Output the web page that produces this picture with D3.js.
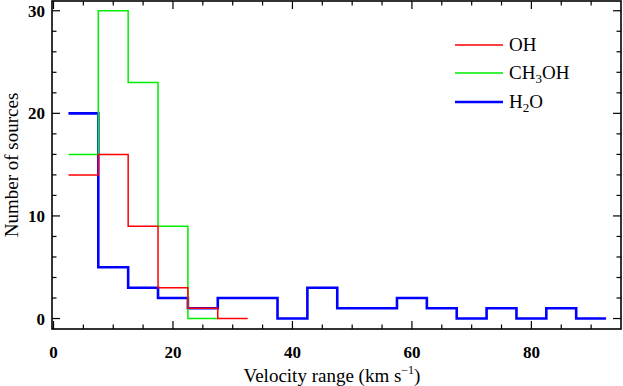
<!DOCTYPE html>
<html>
<head>
<meta charset="utf-8">
<script src="https://cdn.jsdelivr.net/npm/d3@7"></script>
<style>
  body { margin: 0; background: #fff; }
  svg { display: block; font-family: "Liberation Serif", "Times New Roman", serif; }
</style>
</head>
<body>
<svg id="chart" width="623" height="386"></svg>
<script>
// bin left edges (km/s), each bin 5 wide
var binStart = 2.5, binWidth = 5;
var ohCounts    = [14, 16, 9, 3, 1, 0];
var ch3ohCounts = [16, 30, 23, 9, 0];
var h2oCounts   = [20, 5, 3, 2, 1, 2, 2, 0, 3, 1, 1, 2, 1, 0, 1, 0, 1, 0];
var xTicks = [0, 20, 40, 60, 80];
var yTicks = [0, 10, 20, 30];

var series = [
  { name: "H2O",   counts: h2oCounts,   color: "#0000ff", width: 2.6 },
  { name: "CH3OH", counts: ch3ohCounts, color: "#00ee00", width: 1.5 },
  { name: "OH",    counts: ohCounts,    color: "#ff0000", width: 1.5 }
];

var svg = d3.select("#chart");
var pLeft = 52, pRight = 621, pTop = 1, pBottom = 329;

var x = d3.scaleLinear().domain([-0.25, 95]).range([pLeft, pRight]);
var y = d3.scaleLinear().domain([-1.02, 30.95]).range([pBottom, pTop]);

// step lines
function stepPoints(counts) {
  var pts = counts.map(function(c, i) { return [binStart + i * binWidth, c]; });
  pts.push([binStart + counts.length * binWidth, counts[counts.length - 1]]);
  return pts;
}
var line = d3.line()
  .x(function(d) { return x(d[0]); })
  .y(function(d) { return y(d[1]); })
  .curve(d3.curveStepAfter);

series.forEach(function(s) {
  svg.append("path")
    .attr("d", line(stepPoints(s.counts)))
    .attr("fill", "none")
    .attr("stroke", s.color)
    .attr("stroke-width", s.width);
});

// frame + ticks (inward on all sides)
var g = svg.append("g").attr("stroke", "#000").attr("stroke-width", 1.2);
d3.range(0, 95, 5).forEach(function(v) {
  var len = v % 20 === 0 ? 8 : 4.5;
  g.append("line").attr("x1", x(v)).attr("x2", x(v)).attr("y1", pBottom).attr("y2", pBottom - len);
  g.append("line").attr("x1", x(v)).attr("x2", x(v)).attr("y1", pTop).attr("y2", pTop + len);
});
d3.range(0, 31, 2).forEach(function(v) {
  var len = v % 10 === 0 ? 8 : 4.5;
  g.append("line").attr("y1", y(v)).attr("y2", y(v)).attr("x1", pLeft).attr("x2", pLeft + len);
  g.append("line").attr("y1", y(v)).attr("y2", y(v)).attr("x1", pRight).attr("x2", pRight - len);
});
svg.append("rect")
  .attr("x", pLeft).attr("y", pTop)
  .attr("width", pRight - pLeft).attr("height", pBottom - pTop)
  .attr("fill", "none").attr("stroke", "#000").attr("stroke-width", 1.6);

// tick labels
svg.selectAll(".xt").data(xTicks).enter().append("text")
  .attr("x", function(d) { return x(d); })
  .attr("y", 358)
  .attr("text-anchor", "middle")
  .attr("font-size", 17).attr("font-weight", "bold")
  .text(function(d) { return d; });
svg.selectAll(".yt").data(yTicks).enter().append("text")
  .attr("x", 45)
  .attr("y", function(d) { return y(d) + 6; })
  .attr("text-anchor", "end")
  .attr("font-size", 17).attr("font-weight", "bold")
  .text(function(d) { return d; });

// axis titles
var xt = svg.append("text")
  .attr("x", 332).attr("y", 382)
  .attr("text-anchor", "middle")
  .attr("font-size", 19);
xt.append("tspan").text("Velocity range (km s");
xt.append("tspan").attr("dy", -8).attr("font-size", 12).text("\u22121");
xt.append("tspan").attr("dy", 8).text(")");

svg.append("text")
  .attr("transform", "translate(18,165) rotate(-90)")
  .attr("text-anchor", "middle")
  .attr("font-size", 19)
  .text("Number of sources");

// legend
var legend = [
  { label: ["OH"],              color: "#ff0000", width: 1.5, yy: 45 },
  { label: ["CH", "3", "OH"],   color: "#00ee00", width: 1.5, yy: 73 },
  { label: ["H", "2", "O"],     color: "#0000ff", width: 2.6, yy: 102 }
];
legend.forEach(function(l) {
  svg.append("line")
    .attr("x1", 455).attr("x2", 503)
    .attr("y1", l.yy).attr("y2", l.yy)
    .attr("stroke", l.color).attr("stroke-width", l.width);
  var t = svg.append("text")
    .attr("x", 509).attr("y", l.yy + 6)
    .attr("font-size", 19);
  t.append("tspan").text(l.label[0]);
  if (l.label.length > 1) {
    t.append("tspan").attr("dy", 4).attr("font-size", 13).text(l.label[1]);
    t.append("tspan").attr("dy", -4).text(l.label[2]);
  }
});
</script>
</body>
</html>
